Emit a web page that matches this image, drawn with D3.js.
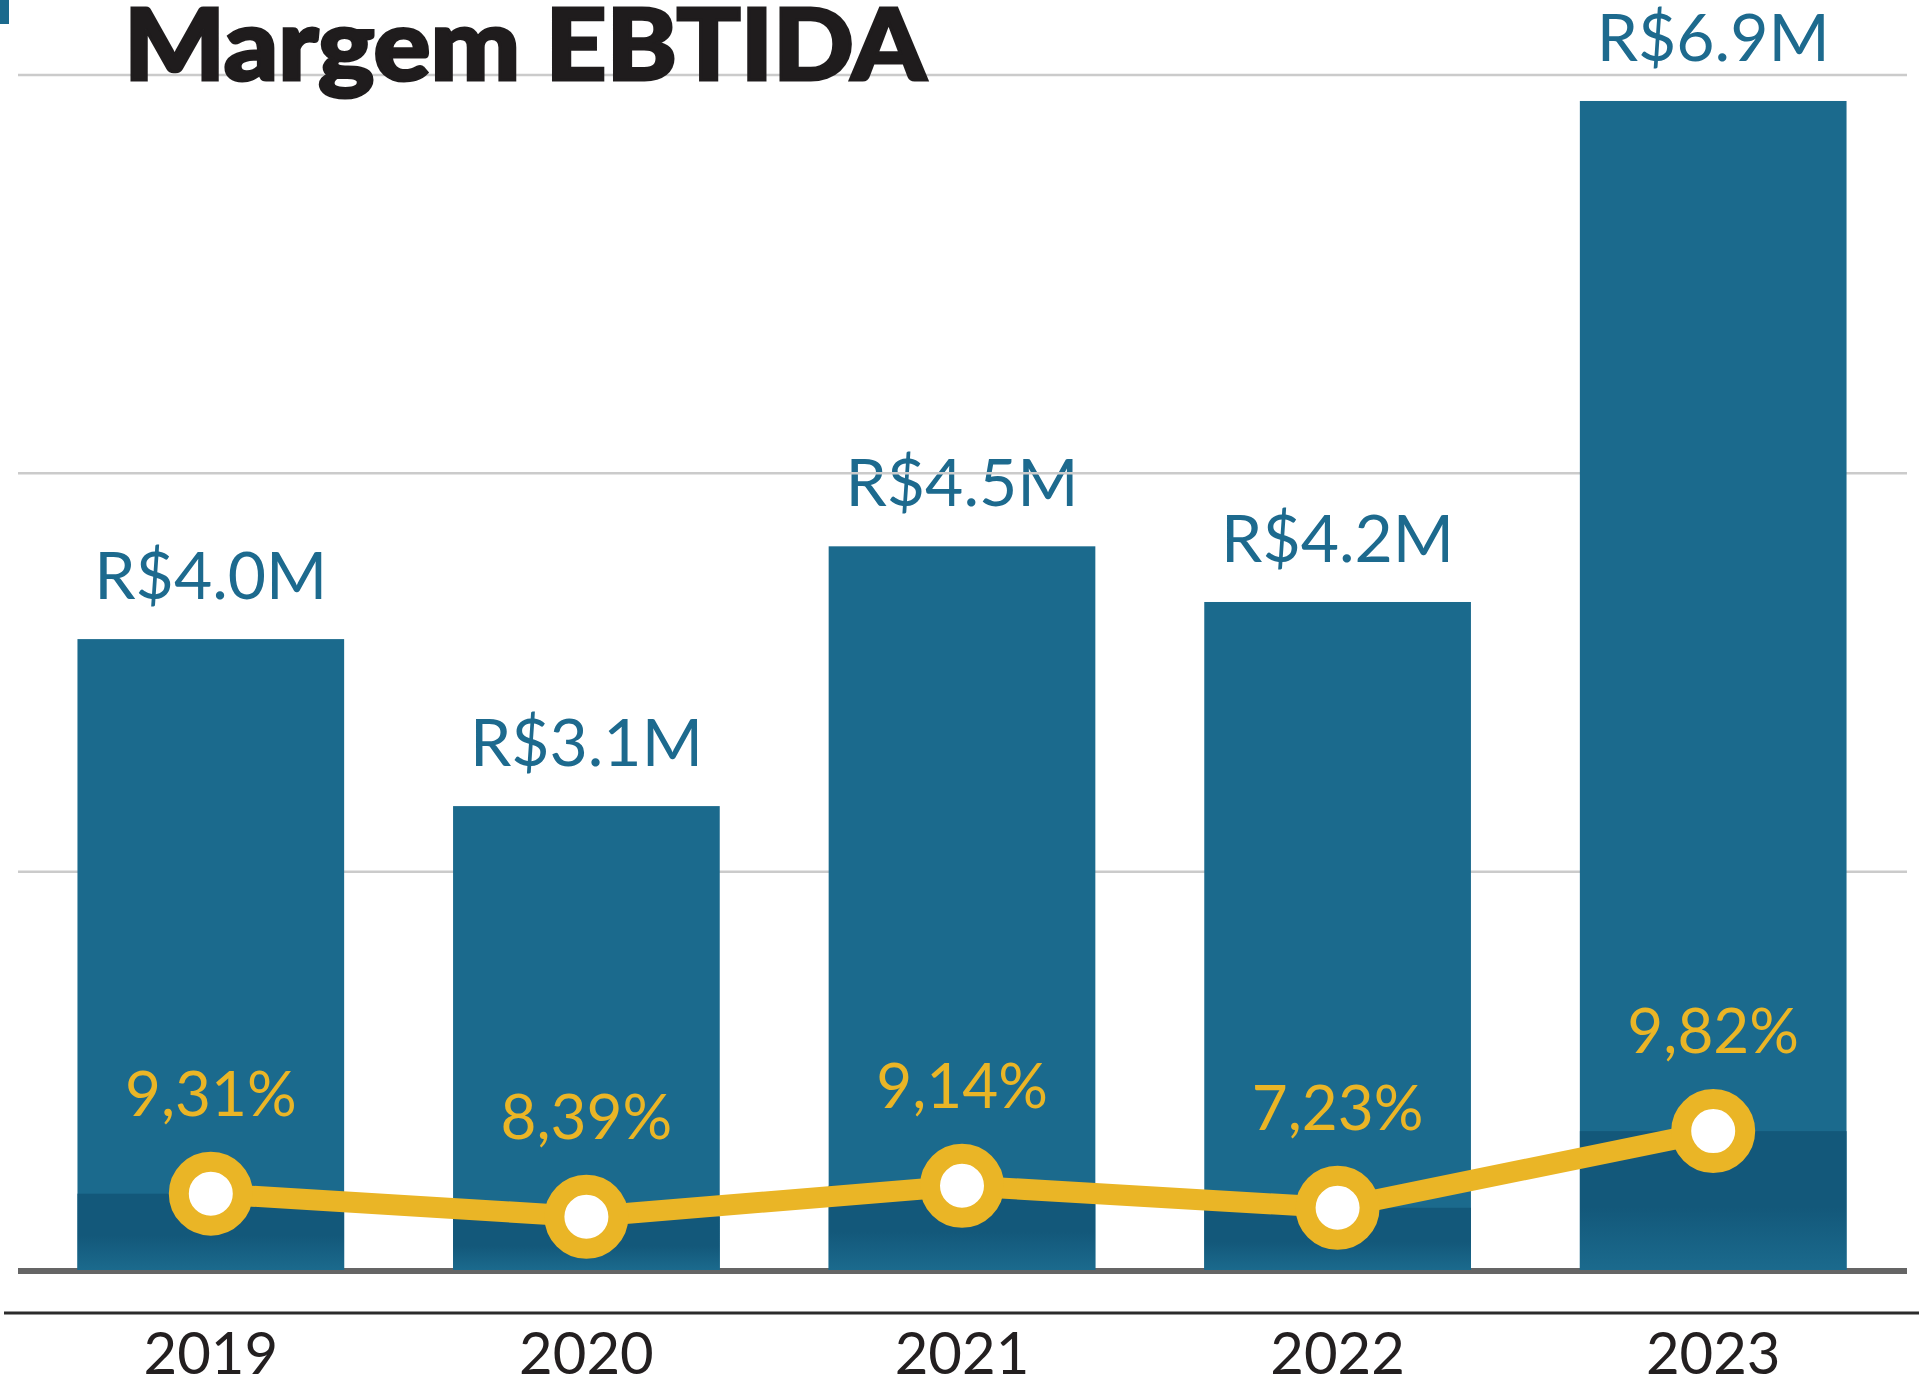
<!DOCTYPE html>
<html>
<head>
<meta charset="utf-8">
<script src="https://cdn.jsdelivr.net/npm/d3@7"></script>
<style>
  html, body { margin: 0; padding: 0; background: #fff; }
  svg { display: block; }
</style>
</head>
<body>
<div id="chart"></div>
<script>
// Data
const years = ["2019", "2020", "2021", "2022", "2023"];
const revenue = [4.0, 3.1, 4.5, 4.2, 6.9];        // R$ milhões (rótulo das barras)
const margin = [9.31, 8.39, 9.14, 7.23, 9.82];    // margem EBITDA, %

const W = 1919, H = 1379;
const baseY = 1270, topY = 75;

const blue = "#1b6a8d";
const blueDark = "#13587a";
const gold = "#eab526";

const ptBR = d3.formatLocale({ decimal: ",", thousands: ".", grouping: [3], currency: ["R$", ""] });
const fmtPct = d => ptBR.format(".2f")(d) + "%";
const fmtRev = d => "R$" + d3.format(".1f")(d) + "M";

const data = years.map((y, i) => ({
    year: y,
    revenue: revenue[i],
    margin: margin[i],
    ebitda: revenue[i] * margin[i] / 100
}));

const svg = d3.select("#chart")
    .append("svg")
    .attr("width", W)
    .attr("height", H);

// gradient for the dark (EBITDA) part of each bar
const grad = svg.append("defs").append("linearGradient")
    .attr("id", "darkPart")
    .attr("x1", 0).attr("y1", 0).attr("x2", 0).attr("y2", 1);
grad.append("stop").attr("offset", "0%").attr("stop-color", blueDark);
grad.append("stop").attr("offset", "55%").attr("stop-color", blueDark);
grad.append("stop").attr("offset", "100%").attr("stop-color", blue);

// scales
const x = d3.scaleBand()
    .domain(years)
    .range([23, 1901])
    .paddingInner(0.29)
    .paddingOuter(0.145);

const y = d3.scaleLinear()
    .domain([0.6, 7.04])
    .range([baseY, topY]);

const yE = d3.scaleLinear()
    .domain([0, 5.83])
    .range([baseY, topY]);

const cx = d => x(d.year) + x.bandwidth() / 2;

// small blue mark top-left
svg.append("rect")
    .attr("x", 0).attr("y", 0)
    .attr("width", 9).attr("height", 24)
    .attr("fill", blue);

// value labels above bars
svg.selectAll(".rev-label")
    .data(data)
    .enter()
    .append("text")
    .attr("class", "rev-label")
    .attr("x", cx)
    .attr("y", d => y(d.revenue) - 40)
    .attr("text-anchor", "middle")
    .style("font-family", "Lato, 'Open Sans', sans-serif")
    .style("font-size", "66px")
    .style("fill", "#1d6a8e")
    .text(d => fmtRev(d.revenue));

// gridlines
const gridVals = d3.range(4).map(i => y.domain()[0] + i * (y.domain()[1] - y.domain()[0]) / 3);
svg.selectAll(".grid")
    .data(gridVals.slice(1))
    .enter()
    .append("line")
    .attr("class", "grid")
    .attr("x1", 18).attr("x2", 1907)
    .attr("y1", d => y(d)).attr("y2", d => y(d))
    .attr("stroke", "#cbcbcb")
    .attr("stroke-width", 2.5);

// baseline
svg.append("line")
    .attr("x1", 18).attr("x2", 1907)
    .attr("y1", baseY + 1).attr("y2", baseY + 1)
    .attr("stroke", "#656565")
    .attr("stroke-width", 6);

// bars
svg.selectAll(".bar")
    .data(data)
    .enter()
    .append("rect")
    .attr("class", "bar")
    .attr("x", d => x(d.year))
    .attr("y", d => y(d.revenue))
    .attr("width", x.bandwidth())
    .attr("height", d => baseY - y(d.revenue))
    .attr("fill", blue);

// dark EBITDA part
svg.selectAll(".bar-dark")
    .data(data)
    .enter()
    .append("rect")
    .attr("class", "bar-dark")
    .attr("x", d => x(d.year))
    .attr("y", d => yE(d.ebitda))
    .attr("width", x.bandwidth())
    .attr("height", d => baseY - yE(d.ebitda))
    .attr("fill", "url(#darkPart)");

// margin line
const line = d3.line()
    .x(cx)
    .y(d => yE(d.ebitda));

svg.append("path")
    .datum(data)
    .attr("fill", "none")
    .attr("stroke", gold)
    .attr("stroke-width", 21)
    .attr("stroke-linejoin", "round")
    .attr("d", line);

svg.selectAll(".dot")
    .data(data)
    .enter()
    .append("circle")
    .attr("class", "dot")
    .attr("cx", cx)
    .attr("cy", d => yE(d.ebitda))
    .attr("r", 32)
    .attr("fill", "#fff")
    .attr("stroke", gold)
    .attr("stroke-width", 20);

// percentage labels
svg.selectAll(".pct-label")
    .data(data)
    .enter()
    .append("text")
    .attr("class", "pct-label")
    .attr("x", cx)
    .attr("y", d => yE(d.ebitda) - 78)
    .attr("text-anchor", "middle")
    .style("font-family", "Lato, 'Open Sans', sans-serif")
    .style("font-size", "62px")
    .style("fill", gold)
    .text(d => fmtPct(d.margin));

// bottom separator
svg.append("line")
    .attr("x1", 4).attr("x2", W)
    .attr("y1", 1313).attr("y2", 1313)
    .attr("stroke", "#2b2b2b")
    .attr("stroke-width", 3);

// year axis
const xAxis = svg.append("g")
    .attr("transform", "translate(0,1374)")
    .call(d3.axisBottom(x).tickSize(0).tickPadding(0));
xAxis.select(".domain").remove();
xAxis.selectAll("text")
    .attr("dy", 0)
    .style("font-family", "Lato, 'Open Sans', sans-serif")
    .style("font-size", "58px")
    .style("fill", "#231f20");

// title
const title = svg.append("text")
    .attr("x", 124)
    .attr("y", 80)
    .style("font-family", "Lato, Inter, sans-serif")
    .style("font-weight", 900)
    .style("font-size", "100px")
    .style("fill", "#1f1c1d")
    .style("stroke", "#1f1c1d")
    .style("stroke-width", 3)
    .text("Margem EBTIDA");
const tw = title.node().getComputedTextLength();
if (Math.abs(tw - 802) > 4) {
    title.attr("textLength", 802).attr("lengthAdjust", "spacingAndGlyphs");
}
</script>
</body>
</html>
